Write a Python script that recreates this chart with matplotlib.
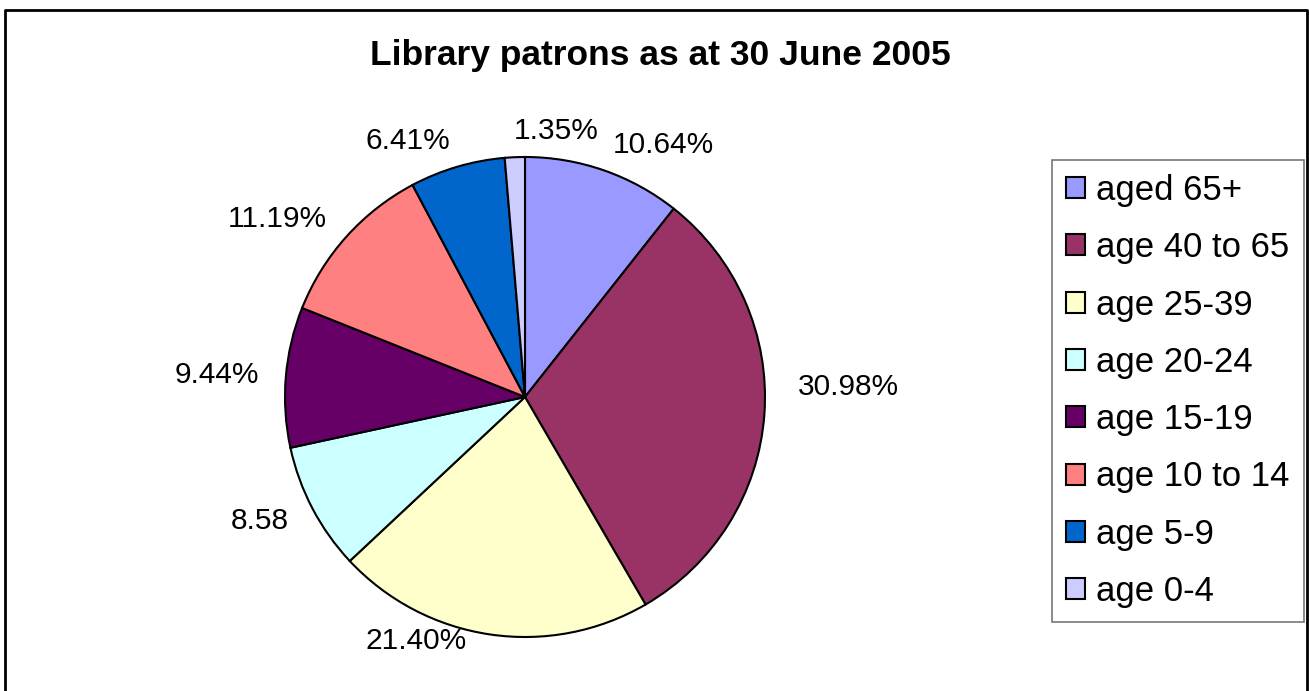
import matplotlib.pyplot as plt
from matplotlib.lines import Line2D

plt.rcParams['font.family'] = ['Liberation Sans', 'DejaVu Sans']

# Data
categories = ['aged 65+', 'age 40 to 65', 'age 25-39', 'age 20-24',
              'age 15-19', 'age 10 to 14', 'age 5-9', 'age 0-4']
shares = [10.64, 30.98, 21.40, 8.58, 9.44, 11.19, 6.41, 1.35]
value_labels = ['10.64%', '30.98%', '21.40%', '8.58',
                '9.44%', '11.19%', '6.41%', '1.35%']
colors = ['#9999FF', '#993366', '#FFFFCC', '#CCFFFF',
          '#660066', '#FF8080', '#0066CC', '#CCCCFF']

W, H = 1309, 691
fig = plt.figure(figsize=(W / 100, H / 100), dpi=100)

# pie axes: centre (525, 397) px, radius 240 px
cx, cy, r = 525, 397, 240
ax = fig.add_axes([(cx - r) / W, (H - cy - r) / H, 2 * r / W, 2 * r / H])
wedges, texts = ax.pie(shares, labels=value_labels, colors=colors,
                       startangle=90, counterclock=False, radius=1,
                       labeldistance=1.11,
                       wedgeprops=dict(edgecolor='black', linewidth=1.5),
                       textprops=dict(fontsize=21.5))
ax.set_xlim(-1, 1)
ax.set_ylim(-1, 1)
ax.set_aspect('equal')

# small nudges to follow the original label placement
texts[-1].set_horizontalalignment('left')
tx, ty = texts[1].get_position()
texts[1].set_position((tx + 0.03, ty + 0.12))
tx, ty = texts[2].get_position()
texts[2].set_position((tx - 0.08, ty + 0.08))

fig.suptitle('Library patrons as at 30 June 2005', fontsize=25.5,
             fontweight='bold', y=1 - 55 / H, va='center', x=660 / W)

leg = fig.legend(wedges, categories, loc='upper left',
                 bbox_to_anchor=(1052 / W, 1 - 160 / H),
                 fontsize=25, frameon=True, fancybox=False,
                 handlelength=0.55, handleheight=0.55, handletextpad=0.33,
                 labelspacing=0.7, borderpad=0.4, borderaxespad=0)
leg.get_frame().set_edgecolor('#555555')
leg.get_frame().set_linewidth(1.2)
for h in leg.legend_handles:
    h.set_edgecolor('black')
    h.set_linewidth(1.5)

# outer chart border (left, top, right)
x0, x1, y1 = 5 / W, 1307 / W, 1 - 10 / H
fig.add_artist(Line2D([x0, x0, x1, x1], [0, y1, y1, 0],
                      transform=fig.transFigure, color='black', lw=2))

fig.savefig('out.png', dpi=100)
